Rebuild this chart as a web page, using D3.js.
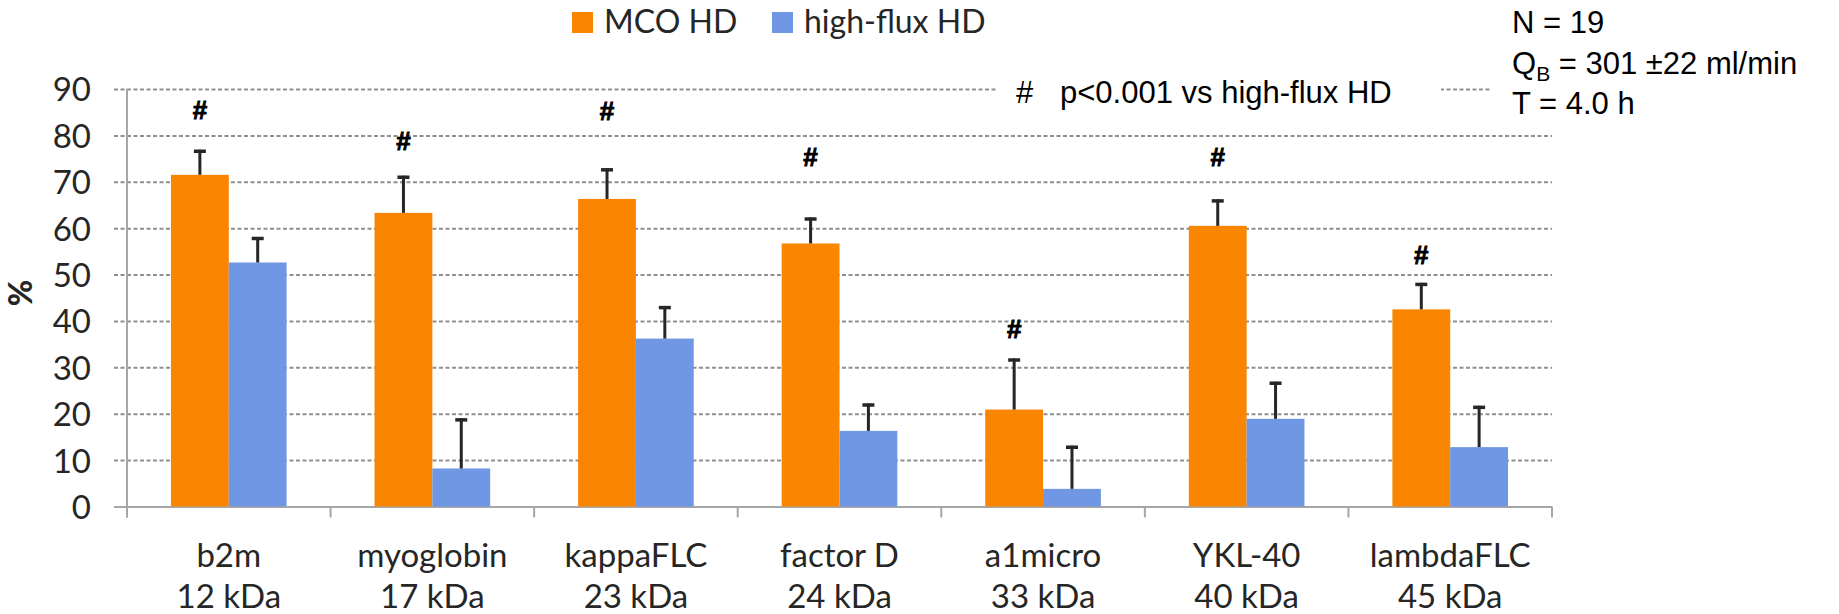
<!DOCTYPE html>
<html>
<head>
<meta charset="utf-8">
<script src="https://cdn.jsdelivr.net/npm/d3@7"></script>
<style>
  body { margin: 0; background: #fff; }
  .tick-label { font-family: Lato, "Open Sans", sans-serif; font-size: 33px; fill: #262626; }
  .legend { font-family: Lato, "Open Sans", sans-serif; font-size: 32px; fill: #262626; }
  .note { font-family: "Liberation Sans", Arial, sans-serif; font-size: 31px; fill: #000; }
  .sig { font-family: "Liberation Sans", Arial, sans-serif; font-size: 26px; font-weight: bold; fill: #000; stroke: #000; stroke-width: 0.9; }
</style>
</head>
<body>
<div id="viz"></div>
<script>
// chart data
const categories = ["b2m", "myoglobin", "kappaFLC", "factor D", "a1micro", "YKL-40", "lambdaFLC"]
const weights    = ["12 kDa", "17 kDa", "23 kDa", "24 kDa", "33 kDa", "40 kDa", "45 kDa"]
const seriesNames = ["MCO HD", "high-flux HD"]
const mcoValues  = [71.5, 63.3, 66.3, 56.7, 20.9, 60.5, 42.5]
const mcoSd      = [5.4, 8.0, 6.6, 5.6, 11.0, 5.7, 5.7]
const hfValues   = [52.6, 8.2, 36.2, 16.3, 3.8, 18.9, 12.8]
const hfSd       = [5.5, 10.8, 7.0, 5.9, 9.3, 8.0, 8.9]
const sigLevel   = [83.5, 76.8, 83.3, 73.4, 36.3, 73.4, 52.2]   // where the "#" sits, in %
const yTicks     = [0, 10, 20, 30, 40, 50, 60, 70, 80, 90]
const noteLines  = ["N = 19", "Q|B| = 301  \u00b122 ml/min", "T = 4.0 h"]

const CONST = { width: 1839, height: 614,
                plot: { left: 127, right: 1552, top: 89, bottom: 506.5 },
                colors: { mco: "#f98500", hf: "#6f97e3", grid: "#8f8f8f", axis: "#a6a6a6", err: "#262626" },
                barShare: 0.284 }

const svg = d3.select("#viz").append("svg")
    .attr("width", CONST.width)
    .attr("height", CONST.height)

const P = CONST.plot
let x = d3.scaleBand().domain(categories).range([P.left, P.right]).paddingInner(0).paddingOuter(0)
let y = d3.scaleLinear().domain([0, 90]).range([P.bottom, P.top])
let bw = x.bandwidth() * CONST.barShare
let xs = d3.scaleBand().domain(seriesNames).range([-bw, bw])

// gridlines + y labels via axisLeft
let yAxis = svg.append("g").attr("transform", `translate(${P.left},0)`)
    .call(d3.axisLeft(y).tickValues(yTicks).tickSize(0).tickPadding(36))
yAxis.select(".domain").remove()
yAxis.selectAll(".tick line")
    .attr("x1", -13)
    .attr("x2", P.right - P.left)
    .attr("stroke-width", 2)
    .attr("stroke-dasharray", d => d == 0 ? null : "4,2.5")
    .attr("stroke", d => d == 0 ? CONST.colors.axis : CONST.colors.grid)
yAxis.selectAll(".tick text")
    .attr("class", "tick-label")
    .attr("font-family", null).attr("font-size", null)
    .attr("text-anchor", "end")
    .attr("x", -36)
    .attr("dy", "0.36em")

// vertical axis line
svg.append("line")
    .attr("x1", P.left).attr("x2", P.left)
    .attr("y1", y(90)).attr("y2", P.bottom + 11)
    .attr("stroke", CONST.colors.axis).attr("stroke-width", 2)

// category ticks under x axis
let bounds = categories.map(c => x(c)).concat([P.right])
svg.selectAll("line.xtick").data(bounds).enter().append("line")
    .attr("class", "xtick")
    .attr("x1", d => d).attr("x2", d => d)
    .attr("y1", P.bottom).attr("y2", P.bottom + 11)
    .attr("stroke", CONST.colors.axis).attr("stroke-width", 2)

// category labels (two lines)
let labels = svg.append("g")
categories.forEach((c, i) => {
    let cx = x(c) + x.bandwidth() / 2
    labels.append("text").attr("class", "tick-label").attr("text-anchor", "middle")
        .attr("x", cx).attr("y", 567).text(c)
    labels.append("text").attr("class", "tick-label").attr("text-anchor", "middle")
        .attr("x", cx).attr("y", 608).text(weights[i])
})

// bars
let rows = categories.map((c, i) => ({ c: c, i: i,
    vals: [ { s: seriesNames[0], v: mcoValues[i], sd: mcoSd[i], col: CONST.colors.mco },
            { s: seriesNames[1], v: hfValues[i],  sd: hfSd[i],  col: CONST.colors.hf } ] }))

let groups = svg.selectAll("g.cat").data(rows).enter().append("g")
    .attr("class", "cat")
    .attr("transform", d => `translate(${x(d.c) + x.bandwidth() / 2},0)`)

groups.selectAll("rect").data(d => d.vals).enter().append("rect")
    .attr("x", d => xs(d.s))
    .attr("width", xs.bandwidth())
    .attr("y", d => y(d.v))
    .attr("height", d => y(0) - y(d.v))
    .attr("fill", d => d.col)

// error bars (upper only)
groups.selectAll("line.err").data(d => d.vals).enter().append("line")
    .attr("class", "err")
    .attr("x1", d => xs(d.s) + xs.bandwidth() / 2).attr("x2", d => xs(d.s) + xs.bandwidth() / 2)
    .attr("y1", d => y(d.v)).attr("y2", d => y(d.v + d.sd))
    .attr("stroke", CONST.colors.err).attr("stroke-width", 3)
groups.selectAll("line.cap").data(d => d.vals).enter().append("line")
    .attr("class", "cap")
    .attr("x1", d => xs(d.s) + xs.bandwidth() / 2 - 6).attr("x2", d => xs(d.s) + xs.bandwidth() / 2 + 6)
    .attr("y1", d => y(d.v + d.sd) + 1.5).attr("y2", d => y(d.v + d.sd) + 1.5)
    .attr("stroke", CONST.colors.err).attr("stroke-width", 3.5)

// significance marks above the MCO bars
groups.append("text")
    .attr("class", "sig")
    .attr("text-anchor", "middle")
    .attr("x", xs(seriesNames[0]) + xs.bandwidth() / 2)
    .attr("y", (d, i) => y(sigLevel[i]))
    .text("#")

// legend
let legend = svg.append("g")
seriesNames.forEach((s, i) => {
    let lx = [572, 772][i]
    legend.append("rect").attr("x", lx).attr("y", 12).attr("width", 21).attr("height", 21)
        .attr("fill", i == 0 ? CONST.colors.mco : CONST.colors.hf)
    legend.append("text").attr("class", "legend").attr("x", lx + 32).attr("y", 33).text(s)
})

// p-value note, white box hides the 90 gridline behind it
svg.append("rect").attr("x", 996).attr("y", 72).attr("width", 445).attr("height", 40).attr("fill", "#fff")
svg.append("text").attr("class", "note").attr("x", 1016).attr("y", 103).text("#")
svg.append("text").attr("class", "note").attr("x", 1060).attr("y", 103).text("p<0.001 vs high-flux HD")

// study info box
svg.append("rect").attr("x", 1490).attr("y", 0).attr("width", 349).attr("height", 125).attr("fill", "#fff")
noteLines.forEach((t, i) => {
    let txt = svg.append("text").attr("class", "note").attr("x", 1512).attr("y", 33 + i * 40.5)
    let parts = t.split("|")
    if (parts.length == 1) { txt.text(t); return }
    txt.append("tspan").text(parts[0])
    txt.append("tspan").attr("font-size", 21).attr("dy", 7).text(parts[1])
    txt.append("tspan").attr("dy", -7).text(parts[2])
})

// y axis title
svg.append("text")
    .attr("transform", `translate(32,293) rotate(-90)`)
    .attr("text-anchor", "middle")
    .attr("font-family", "Lato, sans-serif").attr("font-weight", 900).attr("font-size", 32)
    .attr("fill", "#262626")
    .text("%")
</script>
</body>
</html>
